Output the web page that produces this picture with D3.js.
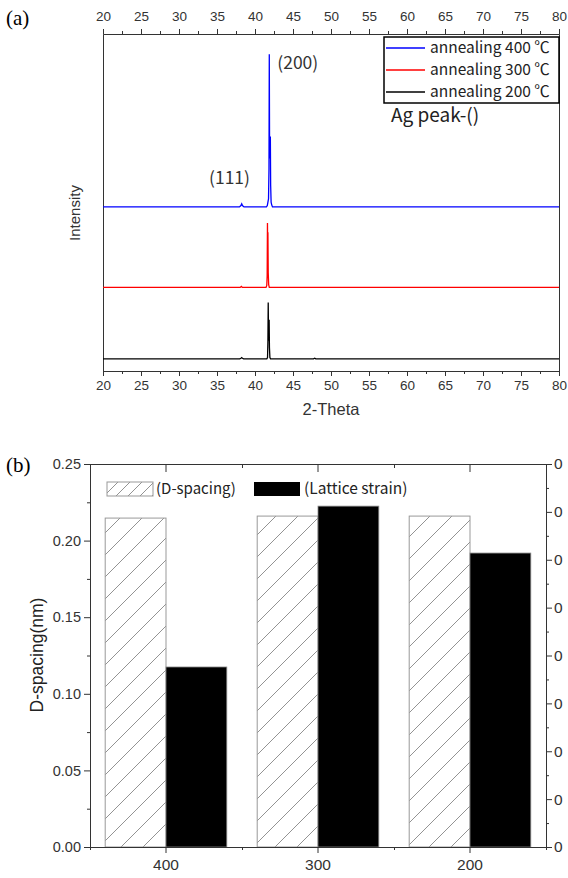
<!DOCTYPE html>
<html><head><meta charset="utf-8">
<script src="https://cdn.jsdelivr.net/npm/d3@7"></script>
<style>body{margin:0;background:#fff} svg{display:block}</style>
</head><body><svg id="c" width="568" height="878"></svg>
<script>
// ---------- DATA ----------
const thetaMajorTicks = d3.range(20, 81, 5);
const thetaMinorTicks = d3.range(22.5, 80, 5);
const seriesNames = ["annealing 400 ℃", "annealing 300 ℃", "annealing 200 ℃"];
const seriesOffsets = [451, 212, 0];
const xrd400 = [[20,36],[37.95,36],[38.15,40],[38.25,45],[38.35,40],[38.55,36],[41.5,36],[41.62,40],[41.70,50],[41.78,60],[41.84,150],[41.88,489],[41.92,200],[41.96,180],[42.02,245],[42.06,100],[42.12,50],[42.2,42],[42.3,36],[80,36]];
const xrd300 = [[20,36],[38.05,36],[38.2,39],[38.35,36],[41.45,36],[41.55,42],[41.60,70],[41.64,227],[41.67,150],[41.70,200],[41.74,80],[41.80,44],[41.88,36],[80,36]];
const xrd200 = [[20,36],[38.0,36],[38.15,38],[38.25,40],[38.35,38],[38.5,36],[41.55,36],[41.65,40],[41.70,90],[41.74,203],[41.78,100],[41.82,90],[41.86,152],[41.90,70],[41.96,40],[42.05,36],[47.7,36],[47.85,38],[48.0,36],[80,36]];

const categories = ["400", "300", "200"];
const dSpacing = [0.2147, 0.2160, 0.2160];
const latticeStrain = [0.00188, 0.00356, 0.00307];
const dMajorTicks = [0, 0.05, 0.10, 0.15, 0.20, 0.25];
const dMinorTicks = [0.025, 0.075, 0.125, 0.175, 0.225];
const strainMajorTicks = d3.range(0, 0.00401, 0.0005);
const strainMinorTicks = d3.range(0.00025, 0.004, 0.0005);

// ---------- STYLE ----------
const colors = ["#0000ff", "#ff0000", "#000000"];
const axisColor = "#333";
const labelFont = "'Liberation Sans', Arial, sans-serif";
const koFont = "'Noto Sans CJK KR', 'Noto Sans', sans-serif";
const serifFont = "'Liberation Serif', 'Times New Roman', serif";

const svg = d3.select("#c");
const defs = svg.append("defs");
function hatch(id, size) {
  const p = defs.append("pattern").attr("id", id).attr("patternUnits", "userSpaceOnUse")
    .attr("width", size).attr("height", size);
  p.append("path").attr("d", `M0,${size} L${size},0 M${-size/4},${size/4} L${size/4},${-size/4} M${size*3/4},${size*5/4} L${size*5/4},${size*3/4}`)
    .attr("stroke", "#777").attr("stroke-width", 0.8);
}
hatch("hatchBar", 22);
hatch("hatchLeg", 12);

function styleAxis(g, fs) {
  g.select(".domain").attr("stroke", axisColor);
  g.selectAll(".tick line").attr("stroke", axisColor);
  g.selectAll(".tick text").attr("fill", "#333").attr("font-family", labelFont).attr("font-size", fs);
}

// ---------- PANEL (a) ----------
const xA = d3.scaleLinear([20, 80], [103, 559]);
const yA = d3.scaleLinear([0, 1000], [371, 34]);
const topA = yA.range()[1], botA = yA.range()[0];

svg.append("g").attr("transform", `translate(0,${botA})`)
  .call(d3.axisBottom(xA).tickValues(thetaMajorTicks).tickSize(5).tickSizeOuter(0).tickPadding(4).tickFormat(d3.format("d")))
  .call(g => styleAxis(g, 13.5));
svg.append("g").attr("transform", `translate(0,${botA})`)
  .call(d3.axisBottom(xA).tickValues(thetaMinorTicks).tickSize(3).tickSizeOuter(0).tickFormat(""))
  .call(g => styleAxis(g, 13.5));
svg.append("g").attr("transform", `translate(0,${topA})`)
  .call(d3.axisTop(xA).tickValues(thetaMajorTicks).tickSize(5).tickSizeOuter(0).tickPadding(8).tickFormat(d3.format("d")))
  .call(g => styleAxis(g, 13.5));
svg.append("g").attr("transform", `translate(0,${topA})`)
  .call(d3.axisTop(xA).tickValues(thetaMinorTicks).tickSize(3).tickSizeOuter(0).tickFormat(""))
  .call(g => styleAxis(g, 13.5));
svg.append("g").attr("transform", `translate(${xA.range()[0]},0)`)
  .call(d3.axisLeft(yA).tickValues([]).tickSizeOuter(0)).call(g => styleAxis(g, 13));
svg.append("g").attr("transform", `translate(${xA.range()[1]},0)`)
  .call(d3.axisRight(yA).tickValues([]).tickSizeOuter(0)).call(g => styleAxis(g, 13));

const lineA = d3.line().x(d => xA(d[0])).y(d => yA(d[1]));
[xrd400, xrd300, xrd200].forEach((s, i) => {
  svg.append("path")
    .attr("d", lineA(s.map(d => [d[0], d[1] + seriesOffsets[i]])))
    .attr("fill", "none").attr("stroke", colors[i]).attr("stroke-width", 1.3);
});

// legend (a)
const legA = svg.append("g");
legA.append("rect").attr("x", 384).attr("y", 37).attr("width", 175).attr("height", 66)
  .attr("fill", "#fff").attr("stroke", "#000").attr("stroke-width", 1.5);
seriesNames.forEach((n, i) => {
  const yy = 48 + i * 22;
  legA.append("line").attr("x1", 386).attr("x2", 425).attr("y1", yy).attr("y2", yy)
    .attr("stroke", colors[i]).attr("stroke-width", 1.3);
  legA.append("text").attr("x", 430).attr("y", yy).attr("dy", "0.35em")
    .attr("font-family", koFont).attr("font-size", 15.5).attr("fill", "#222").text(n);
});

svg.append("text").attr("x", 391).attr("y", 115).attr("dy", "0.35em")
  .attr("font-family", koFont).attr("font-size", 19).attr("fill", "#222").text("Ag peak-()");
svg.append("text").attr("x", xA(41.88) + 8).attr("y", 63).attr("dy", "0.35em")
  .attr("font-family", koFont).attr("font-size", 17.5).attr("fill", "#333").text("(200)");
svg.append("text").attr("x", 209).attr("y", 178).attr("dy", "0.35em")
  .attr("font-family", koFont).attr("font-size", 17.5).attr("fill", "#333").text("(111)");

svg.append("text").attr("transform", "translate(75,213) rotate(-90)").attr("text-anchor", "middle")
  .attr("dy", "0.35em").attr("font-family", labelFont).attr("font-size", 15).attr("fill", "#333").text("Intensity");
svg.append("text").attr("x", 331).attr("y", 409).attr("text-anchor", "middle").attr("dy", "0.35em")
  .attr("font-family", labelFont).attr("font-size", 16.5).attr("fill", "#333").text("2-Theta");
svg.append("text").attr("x", 6).attr("y", 18).attr("dy", "0.35em")
  .attr("font-family", serifFont).attr("font-size", 21).attr("fill", "#000").text("(a)");

// ---------- PANEL (b) ----------
const xB = d3.scaleBand(categories, [90, 546]).paddingInner(0).paddingOuter(0);
const yL = d3.scaleLinear([0, 0.25], [847, 464]);
const yR = d3.scaleLinear([0, 0.004], [847, 464]);
const bw = xB.bandwidth() * 0.4;
const boundaries = categories.map(c => xB(c)).concat([xB.range()[1]]);

// bars
svg.append("g").selectAll("rect").data(categories).join("rect")
  .attr("x", (c) => xB(c) + xB.bandwidth() / 2 - bw).attr("width", bw)
  .attr("y", (c, i) => yL(dSpacing[i])).attr("height", (c, i) => yL(0) - yL(dSpacing[i]))
  .attr("fill", "url(#hatchBar)").attr("stroke", "#999").attr("stroke-width", 1);
svg.append("g").selectAll("rect").data(categories).join("rect")
  .attr("x", (c) => xB(c) + xB.bandwidth() / 2).attr("width", bw)
  .attr("y", (c, i) => yR(latticeStrain[i])).attr("height", (c, i) => yR(0) - yR(latticeStrain[i]))
  .attr("fill", "#000").attr("stroke", "#888").attr("stroke-width", 0.8);

// axes
svg.append("g").attr("transform", `translate(${xB.range()[0]},0)`)
  .call(d3.axisLeft(yL).tickValues(dMajorTicks).tickFormat(d3.format(".2f")).tickSize(6).tickSizeOuter(0).tickPadding(3))
  .call(g => styleAxis(g, 14.5));
svg.append("g").attr("transform", `translate(${xB.range()[0]},0)`)
  .call(d3.axisLeft(yL).tickValues(dMinorTicks).tickFormat("").tickSize(3).tickSizeOuter(0))
  .call(g => styleAxis(g, 14.5));
svg.append("g").attr("transform", `translate(${xB.range()[1]},0)`)
  .call(d3.axisRight(yR).tickValues(strainMajorTicks).tickFormat(d3.format(".0f")).tickSize(6).tickSizeOuter(0).tickPadding(2))
  .call(g => styleAxis(g, 15.5));
svg.append("g").attr("transform", `translate(${xB.range()[1]},0)`)
  .call(d3.axisRight(yR).tickValues(strainMinorTicks).tickFormat("").tickSize(3).tickSizeOuter(0))
  .call(g => styleAxis(g, 15.5));
svg.append("g").attr("transform", `translate(0,847)`)
  .call(d3.axisBottom(xB).tickSize(6).tickSizeOuter(0).tickPadding(6))
  .call(g => styleAxis(g, 15.5));
svg.append("g").attr("transform", `translate(0,847)`)
  .call(d3.axisBottom(d3.scaleLinear([90, 546], [90, 546])).tickValues(boundaries).tickFormat("").tickSize(3).tickSizeOuter(0))
  .call(g => styleAxis(g, 15));
svg.append("g").attr("transform", `translate(0,464)`)
  .call(d3.axisBottom(xB).tickSize(8).tickSizeOuter(0).tickFormat(""))
  .call(g => styleAxis(g, 15));
svg.append("g").attr("transform", `translate(0,464)`)
  .call(d3.axisBottom(d3.scaleLinear([90, 546], [90, 546])).tickValues(boundaries).tickFormat("").tickSize(4).tickSizeOuter(0))
  .call(g => styleAxis(g, 15));

// legend (b)
svg.append("rect").attr("x", 107).attr("y", 482).attr("width", 46).attr("height", 14)
  .attr("fill", "url(#hatchLeg)").attr("stroke", "#999").attr("stroke-width", 1);
svg.append("text").attr("x", 156).attr("y", 489).attr("dy", "0.35em")
  .attr("font-family", koFont).attr("font-size", 15).attr("fill", "#222").text("(D-spacing)");
svg.append("rect").attr("x", 254).attr("y", 482).attr("width", 46).attr("height", 14)
  .attr("fill", "#000");
svg.append("text").attr("x", 304).attr("y", 489).attr("dy", "0.35em")
  .attr("font-family", koFont).attr("font-size", 15.5).attr("fill", "#222").text("(Lattice strain)");

svg.append("text").attr("transform", "translate(37,655) rotate(-90)").attr("text-anchor", "middle")
  .attr("dy", "0.35em").attr("font-family", labelFont).attr("font-size", 17.5).attr("fill", "#222").text("D-spacing(nm)");
svg.append("text").attr("x", 6).attr("y", 465).attr("dy", "0.35em")
  .attr("font-family", serifFont).attr("font-size", 21).attr("fill", "#000").text("(b)");
</script>
</body></html>
